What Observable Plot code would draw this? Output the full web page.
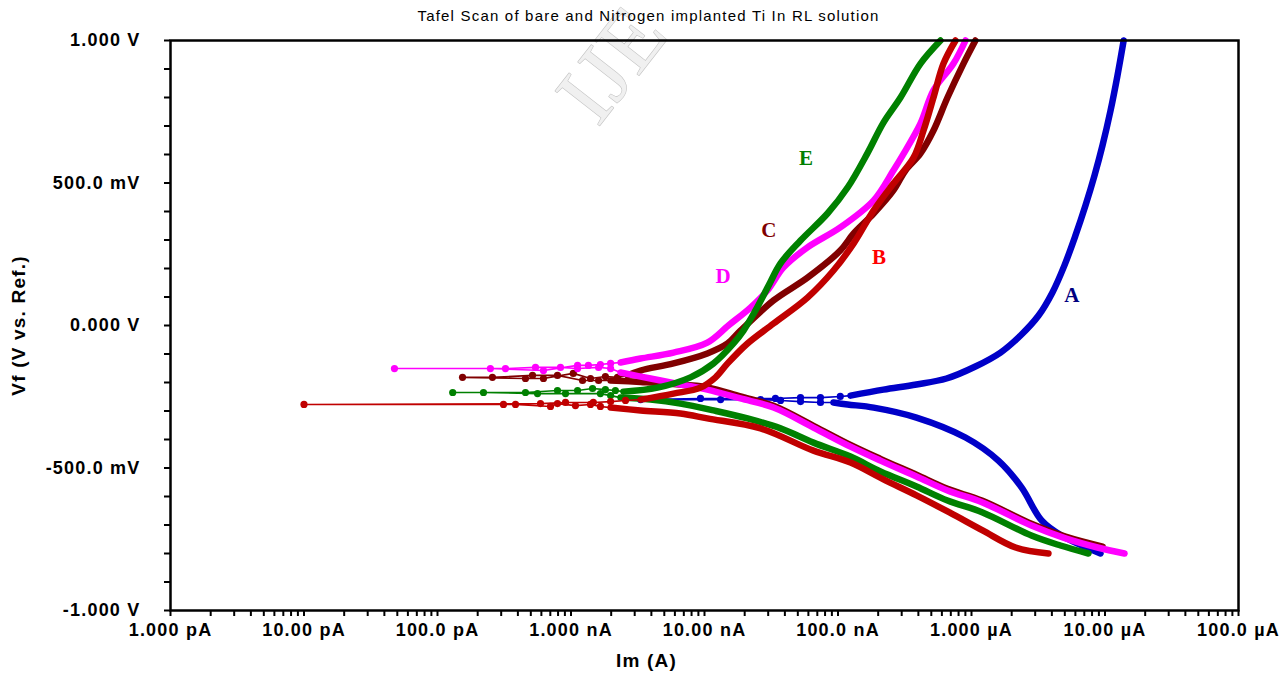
<!DOCTYPE html>
<html><head><meta charset="utf-8">
<script src="https://cdn.jsdelivr.net/npm/d3@7"></script>
<script src="https://cdn.jsdelivr.net/npm/@observablehq/plot@0.6"></script>
<style>body{margin:0;background:#fff}#chart svg{display:block}#chart svg text{letter-spacing:1.2px}</style>
</head><body><div id="chart"></div>
<script>
// ---------- data (current in A, potential in V) ----------
const chartTitle = "Tafel Scan of bare and Nitrogen implanted Ti In RL solution";
const xTitle = "Im (A)";
const yTitle = "Vf (V vs. Ref.)";
const watermark = "IJE";

const xTickValues = [1e-12, 1e-11, 1e-10, 1e-9, 1e-8, 1e-7, 1e-6, 1e-5, 1e-4];
const xTickLabels = ["1.000 pA", "10.00 pA", "100.0 pA", "1.000 nA", "10.00 nA", "100.0 nA", "1.000 µA", "10.00 µA", "100.0 µA"];
const yTickValues = [-1, -0.5, 0, 0.5, 1];
const yTickLabels = ["-1.000 V", "-500.0 mV", "0.000 V", "500.0 mV", "1.000 V"];

const curveNames = ["A", "B", "C", "D", "E"];
const curveColors = ["#0000c8", "#c00000", "#800000", "#ff00ff", "#008000"];
const labelColors = ["#000080", "#ff0000", "#800000", "#ff00ff", "#008000"];
const labelCurrent = [5.71e-6, 2.05e-7, 3.07e-8, 1.39e-8, 5.81e-8];
const labelPotential = [0.105, 0.239, 0.333, 0.172, 0.586];

// A
const aCathodic = [[9.25e-6,-0.800],[4.72e-6,-0.737],[3.35e-6,-0.684],[2.37e-6,-0.568],[1.59e-6,-0.474],[9.02e-7,-0.393],[3.87e-7,-0.323],[1.85e-7,-0.288],[1.18e-7,-0.277],[9.25e-8,-0.270]];
const aScatter = [[7.39e-8,-0.270],[5.24e-8,-0.267],[3.71e-8,-0.263],[2.63e-8,-0.260],[1.32e-8,-0.260],[3.32e-9,-0.260],[9.33e-9,-0.256],[2.03e-8,-0.256],[3.40e-8,-0.256],[5.24e-8,-0.253],[7.39e-8,-0.253],[1.04e-7,-0.249]];
const aAnodic = [[1.24e-7,-0.246],[2.19e-7,-0.225],[3.87e-7,-0.207],[6.50e-7,-0.186],[1.07e-6,-0.144],[1.65e-6,-0.095],[2.33e-6,-0.035],[3.18e-6,0.035],[4.04e-6,0.116],[4.97e-6,0.211],[6.01e-6,0.316],[7.14e-6,0.421],[8.34e-6,0.526],[9.58e-6,0.632],[1.10e-5,0.754],[1.24e-5,0.877],[1.38e-5,1.000]];
// B
const bCathodic = [[3.77e-6,-0.800],[2.14e-6,-0.779],[1.21e-6,-0.719],[6.84e-7,-0.656],[3.87e-7,-0.596],[2.19e-7,-0.540],[1.24e-7,-0.481],[6.55e-8,-0.439],[2.63e-8,-0.361],[1.05e-8,-0.326],[6.61e-9,-0.309],[3.32e-9,-0.298],[1.98e-9,-0.288]];
const bScatter = [[1.66e-9,-0.284],[1.40e-9,-0.277],[1.08e-9,-0.281],[7.92e-10,-0.274],[7.02e-10,-0.284],[3.84e-10,-0.277],[3.12e-10,-0.277],[1.0e-11,-0.277],[5.91e-10,-0.274],[9.1e-10,-0.270],[1.47e-9,-0.270],[1.98e-9,-0.267],[2.56e-9,-0.263]];
const bAnodic = [[3.32e-9,-0.260],[5.86e-9,-0.239],[9.33e-9,-0.218],[1.21e-8,-0.182],[1.49e-8,-0.133],[2.10e-8,-0.063],[3.29e-8,0.007],[5.91e-8,0.098],[9.25e-8,0.193],[1.31e-7,0.288],[1.85e-7,0.404],[2.60e-7,0.498],[3.68e-7,0.589],[4.37e-7,0.684],[5.19e-7,0.800],[6.17e-7,0.919],[7.59e-7,1.000]];
// C
const cCathodic = [[9.6e-6,-0.776],[5.06e-6,-0.741],[2.81e-6,-0.696],[1.21e-6,-0.615],[6.61e-7,-0.573],[3.87e-7,-0.524],[2.08e-7,-0.468],[1.24e-7,-0.419],[6.55e-8,-0.352],[3.29e-8,-0.282],[1.86e-8,-0.249],[1.05e-8,-0.217],[5.86e-9,-0.205],[3.32e-9,-0.198],[1.98e-9,-0.193]];
const cScatter = [[1.61e-9,-0.193],[1.22e-9,-0.193],[7.92e-10,-0.175],[5.15e-10,-0.175],[2.58e-10,-0.182],[1.54e-10,-0.182],[4.56e-10,-0.186],[6.22e-10,-0.186],[1.04e-9,-0.168],[1.40e-9,-0.186],[1.81e-9,-0.179],[2.23e-9,-0.182]];
const cAnodic = [[2.65e-9,-0.175],[3.32e-9,-0.158],[5.86e-9,-0.133],[1.05e-8,-0.098],[1.49e-8,-0.063],[1.86e-8,-0.018],[3.29e-8,0.088],[5.91e-8,0.168],[1.04e-7,0.263],[1.31e-7,0.323],[1.85e-7,0.393],[2.60e-7,0.474],[3.20e-7,0.544],[4.15e-7,0.604],[5.19e-7,0.684],[6.61e-7,0.800],[8.71e-7,0.919],[1.07e-6,1.000]];
// D
const dCathodic = [[1.40e-5,-0.800],[8.79e-6,-0.779],[5.06e-6,-0.747],[2.81e-6,-0.702],[1.21e-6,-0.621],[6.61e-7,-0.579],[3.87e-7,-0.530],[2.08e-7,-0.474],[1.24e-7,-0.425],[6.55e-8,-0.358],[3.29e-8,-0.288],[1.86e-8,-0.256],[1.05e-8,-0.225],[6.61e-9,-0.207],[3.94e-9,-0.186],[2.35e-9,-0.165]];
const dScatter = [[1.98e-9,-0.151],[1.61e-9,-0.147],[1.12e-9,-0.151],[8.34e-10,-0.147],[5.42e-10,-0.147],[3.23e-10,-0.151],[4.76e-11,-0.151],[2.49e-10,-0.151],[6.22e-10,-0.158],[1.12e-9,-0.140],[1.35e-9,-0.140],[1.66e-9,-0.137],[1.98e-9,-0.133]];
const dAnodic = [[2.35e-9,-0.130],[3.32e-9,-0.116],[5.86e-9,-0.095],[1.05e-8,-0.060],[1.51e-8,0.000],[2.21e-8,0.063],[2.96e-8,0.123],[3.91e-8,0.204],[5.91e-8,0.274],[1.04e-7,0.344],[1.85e-7,0.439],[2.60e-7,0.544],[3.04e-7,0.596],[4.15e-7,0.709],[5.19e-7,0.825],[7.33e-7,0.919],[9.02e-7,1.000]];
// E
const eCathodic = [[7.52e-6,-0.800],[4.64e-6,-0.772],[2.81e-6,-0.737],[1.21e-6,-0.656],[6.61e-7,-0.614],[3.87e-7,-0.565],[2.08e-7,-0.512],[1.24e-7,-0.460],[6.55e-8,-0.411],[3.71e-8,-0.361],[2.10e-8,-0.326],[1.17e-8,-0.298],[6.61e-9,-0.274],[3.94e-9,-0.260],[2.35e-9,-0.253]];
const eScatter = [[1.98e-9,-0.246],[1.66e-9,-0.239],[9.1e-10,-0.239],[5.61e-10,-0.239],[2.21e-10,-0.235],[1.30e-10,-0.235],[4.56e-10,-0.235],[7.92e-10,-0.228],[1.12e-9,-0.228],[1.45e-9,-0.221],[1.81e-9,-0.225],[2.15e-9,-0.228]];
const eAnodic = [[2.47e-9,-0.232],[4.45e-9,-0.218],[7.85e-9,-0.182],[1.17e-8,-0.133],[1.65e-8,-0.063],[1.96e-8,-0.018],[2.41e-8,0.053],[3.02e-8,0.140],[3.71e-8,0.218],[5.24e-8,0.298],[8.34e-8,0.393],[1.18e-7,0.484],[1.66e-7,0.604],[2.19e-7,0.712],[2.94e-7,0.800],[4.15e-7,0.919],[5.86e-7,1.000]];

// ---------- build ----------
const branches = {
  A: [aCathodic, aScatter, aAnodic],
  B: [bCathodic, bScatter, bAnodic],
  C: [cCathodic, cScatter, cAnodic],
  D: [dCathodic, dScatter, dAnodic],
  E: [eCathodic, eScatter, eAnodic]
};
const toRows = arr => arr.map(([I, V]) => ({I, V}));
const drawOrder = ["A", "C", "D", "E", "B"];
const sans = "Arial, 'Liberation Sans', Helvetica, sans-serif";
const serif = "'Liberation Serif', 'Times New Roman', 'DejaVu Serif', serif";

const xMinor = [];
for (let e = -12; e < -4; e++) for (let m = 1; m <= 9; m++) xMinor.push(m * Math.pow(10, e));
xMinor.push(1e-4);
const yMinor = d3.range(-10, 11).map(k => k / 10);

const marks = [];
marks.push(Plot.text([watermark], {text: d => d, frameAnchor: "top-left", textAnchor: "middle", lineAnchor: "middle", dx: 442, dy: 24, rotate: -52,
  fontSize: 86, fontFamily: serif, fill: "#f0f0f0", stroke: "#c4c4c4", strokeWidth: 1.2}));

for (const name of drawOrder) {
  const k = curveNames.indexOf(name);
  const col = curveColors[k];
  const [cath, scat, anod] = branches[name];
  const thin = toRows([cath[cath.length - 1], ...scat, anod[0]]);
  marks.push(Plot.line(thin, {x: "I", y: "V", stroke: col, strokeWidth: 1.6}));
  marks.push(Plot.line(toRows(cath), {x: "I", y: "V", stroke: col, strokeWidth: 6.5, curve: "catmull-rom", strokeLinecap: "round", strokeLinejoin: "round"}));
  marks.push(Plot.line(toRows(anod), {x: "I", y: "V", stroke: col, strokeWidth: 6.5, curve: "catmull-rom", strokeLinecap: "round", strokeLinejoin: "round"}));
  marks.push(Plot.dot(toRows(scat), {x: "I", y: "V", r: 3.6, fill: col, stroke: "none"}));
}

const labelRows = curveNames.map((n, i) => ({n, I: labelCurrent[i], V: labelPotential[i], c: labelColors[i]}));
marks.push(Plot.text(labelRows, {x: "I", y: "V", text: "n", fill: "c", fontSize: 21, fontWeight: "bold", fontFamily: serif}));

marks.push(Plot.frame({stroke: "#000", strokeWidth: 2.5}));
marks.push(Plot.axisY(yMinor, {tickSize: 6, tickFormat: () => "", strokeWidth: 2, label: null}));
marks.push(Plot.axisY(yTickValues, {tickSize: 0, tickPadding: 30, tickFormat: d => yTickLabels[yTickValues.indexOf(d)],
  fontSize: 18, fontWeight: "bold", fontFamily: sans, fill: "#000", label: null}));
marks.push(Plot.axisX(xMinor, {tickSize: 6, tickFormat: () => "", strokeWidth: 2, label: null}));
marks.push(Plot.axisX(xTickValues, {tickSize: 0, tickPadding: 13, tickFormat: d => xTickLabels[xTickValues.indexOf(d)],
  fontSize: 18, fontWeight: "bold", fontFamily: sans, fill: "#000", label: null}));

marks.push(Plot.text([chartTitle], {text: d => d, frameAnchor: "top", textAnchor: "middle", lineAnchor: "middle", dx: -56, dy: -24, fontSize: 15, fontFamily: sans, fill: "#000"}));
marks.push(Plot.text([yTitle], {text: d => d, frameAnchor: "left", textAnchor: "middle", lineAnchor: "middle", dx: -152, rotate: -90, fontSize: 19, fontWeight: "bold", fontFamily: sans, fill: "#000"}));
marks.push(Plot.text([xTitle], {text: d => d, frameAnchor: "bottom", textAnchor: "middle", lineAnchor: "middle", dx: -58, dy: 50, fontSize: 19, fontWeight: "bold", fontFamily: sans, fill: "#000"}));

const chart = Plot.plot({
  width: 1286, height: 674,
  marginLeft: 170, marginRight: 48, marginTop: 40, marginBottom: 64,
  style: {background: "#fff", fontFamily: sans, overflow: "visible"},
  x: {type: "log", domain: [1e-12, 1e-4]},
  y: {domain: [-1, 1]},
  marks
});
document.getElementById("chart").appendChild(chart);
</script></body></html>
